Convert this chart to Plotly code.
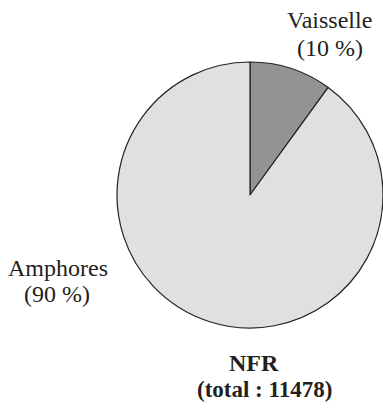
import plotly.graph_objects as go

labels = ["Vaisselle", "Amphores"]
values = [10, 90]
colors = ["#939393", "#e0e0e2"]
total = 11478
title_name = "NFR"

W, H = 383, 412
FONT = "Liberation Serif"

def px(x):
    return x / W

def py(y):
    return 1 - y / H

fig = go.Figure(go.Pie(
    labels=labels,
    values=values,
    marker=dict(colors=colors, line=dict(color="#222222", width=1.2)),
    sort=False,
    direction="clockwise",
    rotation=0,
    textinfo="none",
    hoverinfo="none",
    showlegend=False,
    domain=dict(x=[px(117), px(383)], y=[py(328), py(62)]),
))

def txt(s, x, y, size=24, bold=False):
    fig.add_annotation(
        x=px(x), y=py(y), xref="paper", yref="paper",
        text=f"<b>{s}</b>" if bold else s, showarrow=False,
        font=dict(family=FONT, size=size, color="#231f20"),
        xanchor="center", yanchor="middle", align="center",
    )

pos = {"Vaisselle": ((329, 20), (330, 48)), "Amphores": ((58, 268), (57, 294))}
for lab, val in zip(labels, values):
    (x1, y1), (x2, y2) = pos[lab]
    txt(lab, x1, y1)
    txt(f"({val} %)", x2, y2)

txt(title_name, 254, 363, size=24, bold=True)
txt(f"(total : {total})", 264, 389, size=23, bold=True)

fig.update_layout(
    width=W, height=H,
    margin=dict(l=0, r=0, t=0, b=0),
    paper_bgcolor="white", plot_bgcolor="white",
)

fig.write_html(
    "out.html",
    config={"displayModeBar": False, "staticPlot": True},
    post_script="document.body.style.margin='0';document.body.style.overflow='hidden';",
)
